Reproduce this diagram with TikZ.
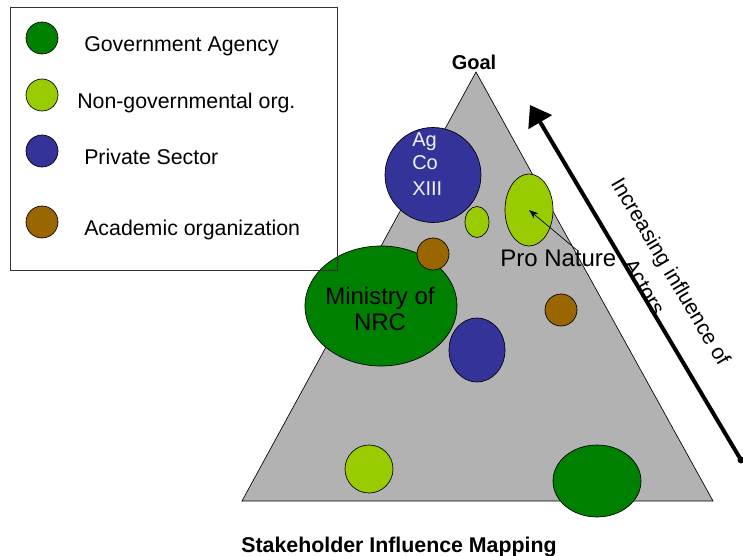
\documentclass[tikz,border=0pt]{standalone}
\usepackage{fontspec}
\setmainfont{Liberation Sans}
\usetikzlibrary{arrows.meta,shapes.geometric}

\definecolor{govgreen}{RGB}{0,128,0}
\definecolor{ngogreen}{RGB}{153,204,0}
\definecolor{privblue}{RGB}{51,51,153}
\definecolor{acadbrown}{RGB}{153,102,0}
\definecolor{goalgray}{RGB}{178,178,178}

\tikzset{
	actor/.style n args={3}{ellipse,draw=black,line width=0.5pt,inner sep=0pt,
		fill=#1,minimum width={2*#2*0.75pt},minimum height={2*#3*0.75pt}},
	legendtext/.style={anchor=base west,inner sep=0pt,font=\fontsize{16}{19}\selectfont},
}

\begin{document}
\begin{tikzpicture}[x=0.75pt,y=-0.75pt]
\useasboundingbox (0,0) rectangle (743,556);

\coordinate (G) at (476,72);
\coordinate (L) at (242,501);
\coordinate (R) at (713,501);

\fill[goalgray] (G)--(L)--(R)--cycle;
\draw[line width=0.5pt] (G)--(L)--(R)--cycle;

\node[anchor=base,font=\bfseries\fontsize{15}{18}\selectfont] (goal) at (474,70) {Goal};

% actors inside the triangle
\node[actor={privblue}{48}{47.5}] (agco) at (433,175) {};
\node[actor={ngogreen}{12}{15.5}] (ngoa) at (477,222) {};
\node[actor={ngogreen}{24}{36}] (pronature) at (529,210) {};
\node[actor={govgreen}{76}{60}] (ministry) at (381,306) {};
\node[actor={acadbrown}{16}{16}] (acada) at (433,254) {};
\node[actor={privblue}{28}{32}] (privb) at (477,350) {};
\node[actor={acadbrown}{16}{16}] (acadb) at (561,310) {};
\node[actor={ngogreen}{24}{24}] (ngob) at (369,469) {};
\node[actor={govgreen}{44}{36}] (govb) at (597,481) {};

\def\agcox{412}
\foreach \t/\y [count=\i] in {Ag/147,Co/170,XIII/196}
	\node[anchor=base west,text=white!95!blue,inner sep=0pt,
		font=\fontsize{15}{18}\selectfont] (agco-\i) at (\agcox,\y) {\t};

\node[align=center,font=\fontsize{18}{20}\selectfont] (ministry-txt) at (380,309) {Ministry of\\NRC};

\node[anchor=base west,inner sep=0pt,font=\fontsize{18}{20}\selectfont] (pn-txt) at (500,267) {Pro Nature};
\coordinate (pn-tail) at (578,251);
\draw[line width=0.5pt,-{Stealth[length=7pt,width=5pt]}] (pn-tail) -- (pronature.center);

% influence arrow
\coordinate (infl-tail) at (741,460);
\coordinate (infl-tip) at (530,105);
\draw[line width=3pt,line cap=round,-{Triangle[length=15pt,width=20pt]}] (infl-tail) -- (infl-tip);
\fill (infl-tail) circle (2.6pt);
\node[rotate=-59.5,align=center,font=\fontsize{16}{23}\selectfont] (infl-txt) at (658,279)
	{Increasing influence of\\Actors};

% legend
\foreach \c/\t/\y/\tx [count=\i] in {govgreen/Government Agency/38/84,
		ngogreen/Non-governmental org./95/77,
		privblue/Private Sector/151/84,
		acadbrown/Academic organization/222/84} {
	\node[actor={\c}{16}{16}] (leg-\i) at (42,\y) {};
	\node[legendtext] (legtxt-\i) at (\tx,\y+14) {\t};
}
\draw[line width=0.6pt,black!80] (10,7) rectangle (337,270);

\node[anchor=base,font=\bfseries\fontsize{16}{19}\selectfont] (title) at (399,552) {Stakeholder Influence Mapping};
\end{tikzpicture}
\end{document}
